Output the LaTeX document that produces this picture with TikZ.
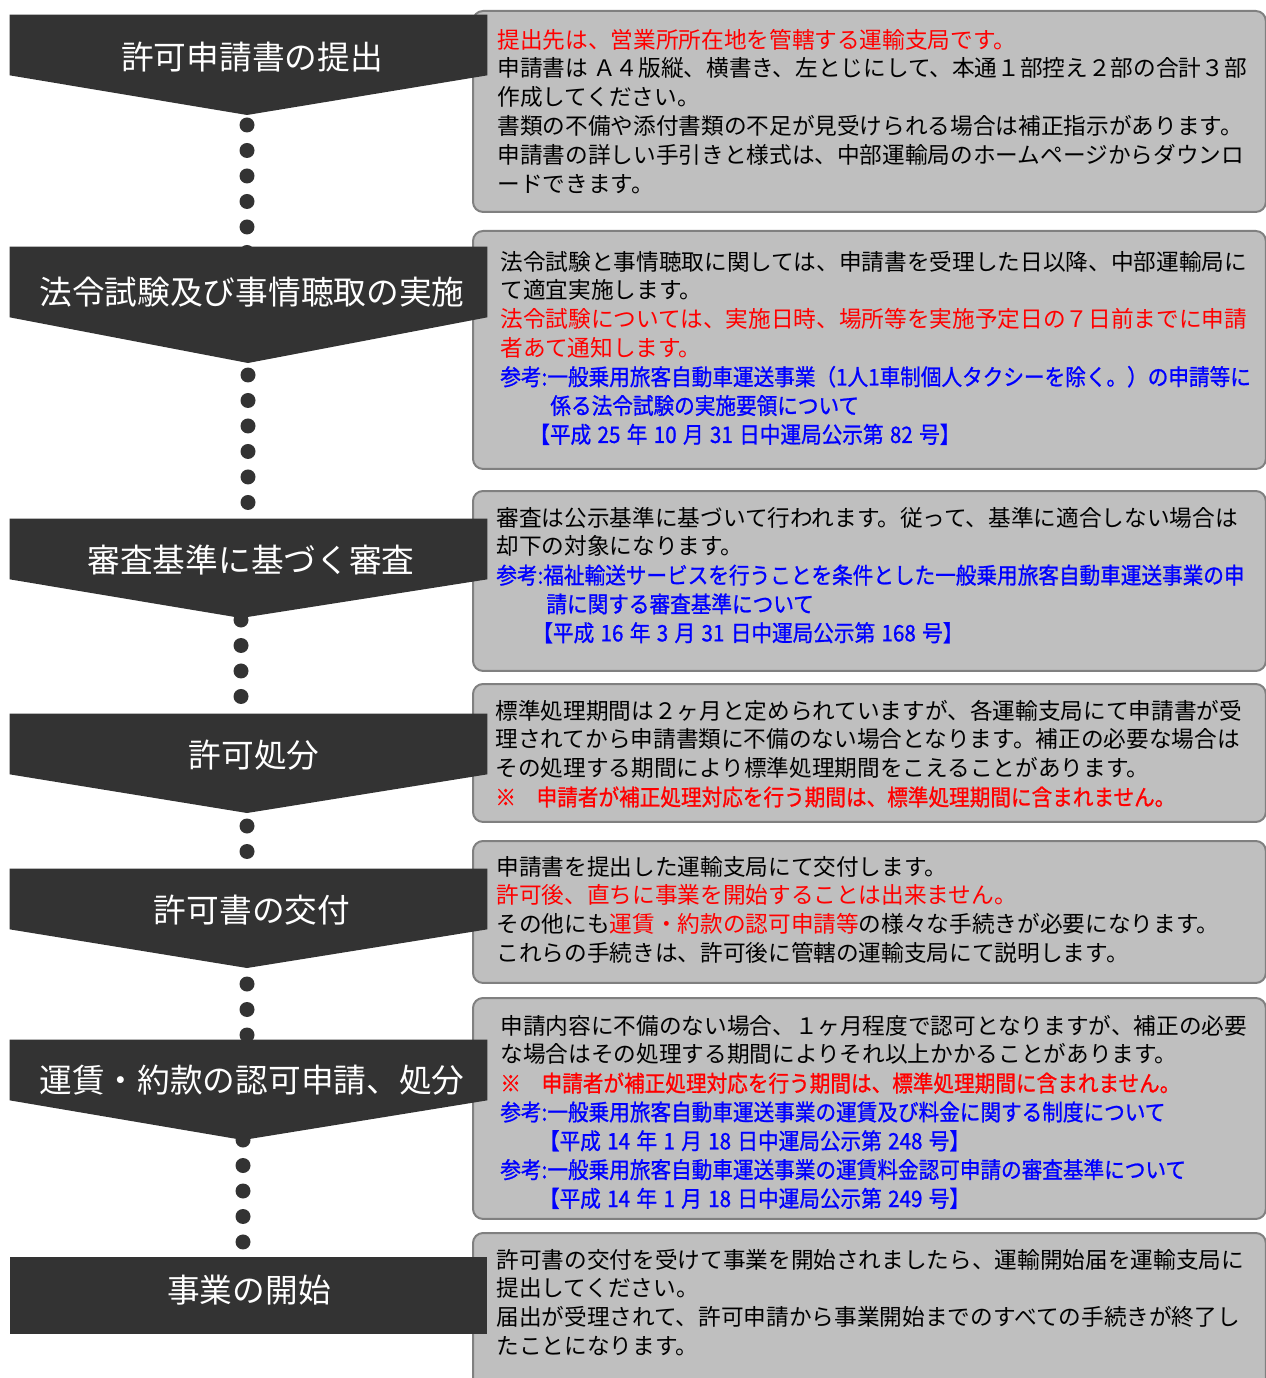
\documentclass[tikz,border=0pt]{standalone}
\usepackage{fontspec}
\usepackage{tikz}
\usetikzlibrary{positioning,calc,backgrounds}
\newfontfamily\jpfont{Noto Sans CJK JP}
\newfontfamily\jpnarrow[FakeStretch=0.91,FakeBold=1]{Noto Sans CJK JP}
\definecolor{stepgray}{rgb}{0.2, 0.2, 0.2}
\definecolor{boxfill}{rgb}{0.75, 0.75, 0.75}
\definecolor{boxedge}{rgb}{0.5, 0.5, 0.5}
\definecolor{notered}{rgb}{1, 0, 0}
\definecolor{noteblue}{rgb}{0, 0, 1}
\newcommand{\rednote}[1]{{\color{notered}#1}}
\newcommand{\rednarrow}[1]{{\jpnarrow\color{notered}#1}}
\newcommand{\bluenote}[1]{{\jpnarrow\spaceskip=0.28em\color{noteblue}#1}}

\begin{document}
\begin{tikzpicture}[x=0.02cm,y=-0.02cm,
	stepshape/.style={minimum width=9.54cm,inner sep=0pt},
	steptitle/.style={text=white,inner sep=0pt,font=\jpfont\fontsize{18.6pt}{22pt}\selectfont},
	infobox/.style={draw=boxedge,fill=boxfill,line width=0.04cm,rounded corners=0.2cm,anchor=north west,minimum width=15.86cm,inner sep=0pt},
	infotext/.style={anchor=north west,align=left,inner sep=0pt,font=\jpfont\fontsize{12.9pt}{16.4pt}\selectfont},
	dotline/.style={stepgray,line width=0.3cm,line cap=round,dash pattern=on 0pt off 0.51cm}]
		
		\useasboundingbox (0,0) rectangle (1266,1378);
		
		% grey boxes on the right
		\node[infobox,minimum height=4.02cm] (b1) at (472,10) {};
		\node[infobox,minimum height=4.76cm] (b2) at (472,230) {};
		\node[infobox,minimum height=3.6cm] (b3) at (472,490) {};
		\node[infobox,minimum height=2.76cm] (b4) at (472,683) {};
		\node[infobox,minimum height=2.84cm] (b5) at (472,840) {};
		\node[infobox,minimum height=4.42cm] (b6) at (472,997) {};
		\node[infobox,minimum height=3.4cm] (b7) at (472,1232) {};
		
		\node[infotext] (d1) at (497,28.6) {\rednote{提出先は、営業所所在地を管轄する運輸支局です。}\\
			申請書は Ａ４版縦、横書き、左とじにして、本通１部控え２部の合計３部\\
			作成してください。\\
			書類の不備や添付書類の不足が見受けられる場合は補正指示があります。\\
			申請書の詳しい手引きと様式は、中部運輸局のホームページからダウンロ\\
			ードできます。};
		
		\node[infotext] (d2) at (500,250.6) {法令試験と事情聴取に関しては、申請書を受理した日以降、中部運輸局に\\
			て適宜実施します。\\
			\rednote{法令試験については、実施日時、場所等を実施予定日の７日前までに申請}\\
			\rednote{者あて通知します。}\\
			\bluenote{参考:一般乗用旅客自動車運送事業（1人1車制個人タクシーを除く。）の申請等に}\\
			\bluenote{\hspace{28.5pt}係る法令試験の実施要領について}\\
			\bluenote{\hspace{16.5pt}【平成 25 年 10 月 31 日中運局公示第 82 号】}};
		
		\node[infotext] (d3) at (496,506.6) {審査は公示基準に基づいて行われます。従って、基準に適合しない場合は\\
			却下の対象になります。\\
			\bluenote{参考:福祉輸送サービスを行うことを条件とした一般乗用旅客自動車運送事業の申}\\
			\bluenote{\hspace{28.5pt}請に関する審査基準について}\\
			\bluenote{\hspace{20.5pt}【平成 16 年 3 月 31 日中運局公示第 168 号】}};
		
		\node[infotext] (d4) at (495,699.6) {標準処理期間は２ヶ月と定められていますが、各運輸支局にて申請書が受\\
			理されてから申請書類に不備のない場合となります。補正の必要な場合は\\
			その処理する期間により標準処理期間をこえることがあります。\\
			\rednarrow{※　申請者が補正処理対応を行う期間は、標準処理期間に含まれません。}};
		
		\node[infotext] (d5) at (496,855.6) {申請書を提出した運輸支局にて交付します。\\
			\rednote{許可後、直ちに事業を開始することは出来ません。}\\
			その他にも\rednote{運賃・約款の認可申請等}の様々な手続きが必要になります。\\
			これらの手続きは、許可後に管轄の運輸支局にて説明します。};
		
		\node[infotext] (d6) at (500,1014.6) {申請内容に不備のない場合、１ヶ月程度で認可となりますが、補正の必要\\
			な場合はその処理する期間によりそれ以上かかることがあります。\\
			\rednarrow{※　申請者が補正処理対応を行う期間は、標準処理期間に含まれません。}\\
			\bluenote{参考:一般乗用旅客自動車運送事業の運賃及び料金に関する制度について}\\
			\bluenote{\hspace{22pt}【平成 14 年 1 月 18 日中運局公示第 248 号】}\\
			\bluenote{参考:一般乗用旅客自動車運送事業の運賃料金認可申請の審査基準について}\\
			\bluenote{\hspace{22pt}【平成 14 年 1 月 18 日中運局公示第 249 号】}};
		
		\node[infotext] (d7) at (496,1248.6) {許可書の交付を受けて事業を開始されましたら、運輸開始届を運輸支局に\\
			提出してください。\\
			届出が受理されて、許可申請から事業開始までのすべての手続きが終了し\\
			たことになります。};
		
		% dark step arrows on the left
		\node[stepshape,minimum height=1.2cm] (s1) at (248.5,45) {};
		\coordinate (p1) at (247,115);
		\fill[stepgray] (s1.north west) -- (s1.north east) -- (s1.south east) -- (p1) -- (s1.south west) -- cycle;
		\node[steptitle] (t1) at (252,57) {許可申請書の提出};
		
		\node[stepshape,minimum height=1.4cm] (s2) at (248.5,282) {};
		\coordinate (p2) at (248,363);
		\fill[stepgray] (s2.north west) -- (s2.north east) -- (s2.south east) -- (p2) -- (s2.south west) -- cycle;
		\node[steptitle] (t2) at (252,292) {法令試験及び事情聴取の実施};
		
		\node[stepshape,minimum height=1.2cm] (s3) at (248.5,549) {};
		\coordinate (p3) at (241,618);
		\fill[stepgray] (s3.north west) -- (s3.north east) -- (s3.south east) -- (p3) -- (s3.south west) -- cycle;
		\node[steptitle] (t3) at (251,560) {審査基準に基づく審査};
		
		\node[stepshape,minimum height=1.2cm] (s4) at (248.5,744) {};
		\coordinate (p4) at (247,813);
		\fill[stepgray] (s4.north west) -- (s4.north east) -- (s4.south east) -- (p4) -- (s4.south west) -- cycle;
		\node[steptitle] (t4) at (254,755) {許可処分};
		
		\node[stepshape,minimum height=1.2cm] (s5) at (248.5,899) {};
		\coordinate (p5) at (247,968);
		\fill[stepgray] (s5.north west) -- (s5.north east) -- (s5.south east) -- (p5) -- (s5.south west) -- cycle;
		\node[steptitle] (t5) at (252,910) {許可書の交付};
		
		\node[stepshape,minimum height=1.2cm] (s6) at (248.5,1070) {};
		\coordinate (p6) at (243,1140);
		\fill[stepgray] (s6.north west) -- (s6.north east) -- (s6.south east) -- (p6) -- (s6.south west) -- cycle;
		\node[steptitle] (t6) at (252,1080) {運賃・約款の認可申請、処分};
		
		\node[stepshape,minimum height=1.54cm,fill=stepgray] (s7) at (248.5,1295.5) {};
		\node[steptitle] (t7) at (249,1290) {事業の開始};
		
		% dotted links behind the arrows
		\begin{scope}[on background layer]
			\draw[dotline] ([yshift=-0.2cm]p1) -- (p1 |- s2.center);
			\draw[dotline] ([yshift=-0.24cm]p2) -- (p2 |- s3.center);
			\draw[dotline] ([yshift=-0.04cm]p3) -- (p3 |- s4.center);
			\draw[dotline] ([yshift=-0.26cm]p4) -- (p4 |- s5.center);
			\draw[dotline] ([yshift=-0.32cm]p5) -- (p5 |- s6.center);
			\draw[dotline] (p6) -- (p6 |- s7.center);
		\end{scope}
		
\end{tikzpicture}
\end{document}
